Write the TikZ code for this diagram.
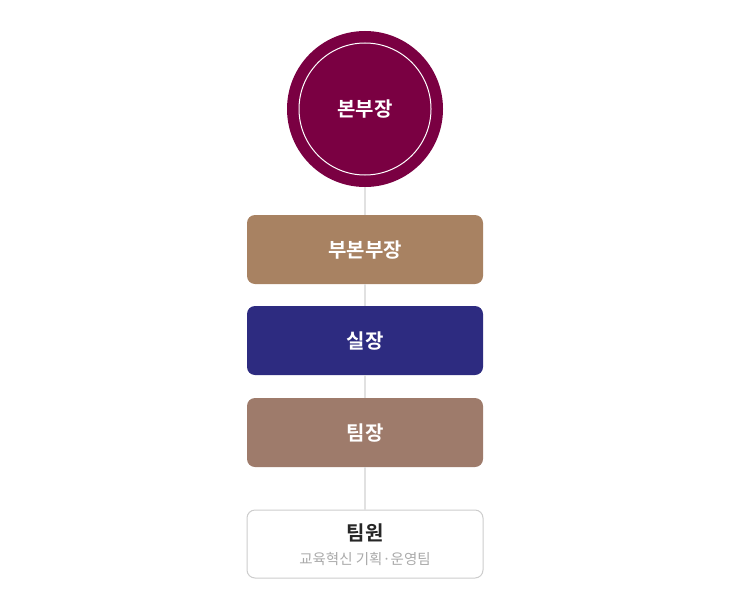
\documentclass[tikz,border=0pt]{standalone}
\usepackage{fontspec}
\setmainfont{Noto Sans CJK KR}
\newfontfamily\krbold{Noto Sans CJK KR}[BoldFont={* Bold}]
\definecolor{bossred}{RGB}{122,0,66}
\definecolor{vicetan}{RGB}{168,130,98}
\definecolor{officeblue}{RGB}{45,43,128}
\definecolor{teambrown}{RGB}{158,123,107}
\definecolor{linkgray}{RGB}{225,225,225}
\definecolor{edgegray}{RGB}{205,205,205}
\definecolor{subgray}{RGB}{170,170,170}
\begin{document}
\begin{tikzpicture}[x = 1pt, y = -1pt]
	% Frame of the picture
	\useasboundingbox (0, 0) rectangle (730, 610);

	% Styles of the boxes
	\tikzset{rankbox/.style = {rectangle, rounded corners = 8pt, minimum width = 236pt, minimum height = 69pt, inner sep = 0pt, text = white, text height = 1.5em, text depth = 0pt, font = \krbold\bfseries\fontsize{20}{22}\selectfont},
		link/.style = {draw = linkgray, line width = 1.2pt}}

	% The head of the division
	\node[circle, fill = bossred, minimum size = 156pt, inner sep = 0pt, text = white, text height = 1.5em, text depth = 0pt, font = \krbold\bfseries\fontsize{20}{22}\selectfont] (boss) at (365, 109) {본부장};
	\draw[white, line width = 1pt] (boss.center) circle (66pt);

	% The ranks below
	\node[rankbox, fill = vicetan] (vice) at (365, 249.5) {부본부장};
	\node[rankbox, fill = officeblue] (office) at (365, 340.5) {실장};
	\node[rankbox, fill = teambrown] (team) at (365, 432.5) {팀장};
	\node[rankbox, fill = white, draw = edgegray, line width = 1pt, minimum height = 68pt, text = black!85] (member) at (365, 544) {};
	\node[font = \krbold\bfseries\fontsize{20}{22}\selectfont, text = black!85] (membername) at (365, 533) {팀원};
	\node[font = \fontsize{14.5}{16}\selectfont, text = subgray] (memberteam) at (365, 559.5) {교육혁신 기획·운영팀};

	% The vertical line between them
	\draw[link] (boss) -- (vice);
	\draw[link] (vice) -- (office);
	\draw[link] (office) -- (team);
	\draw[link] (team) -- (member);

\end{tikzpicture}
\end{document}
